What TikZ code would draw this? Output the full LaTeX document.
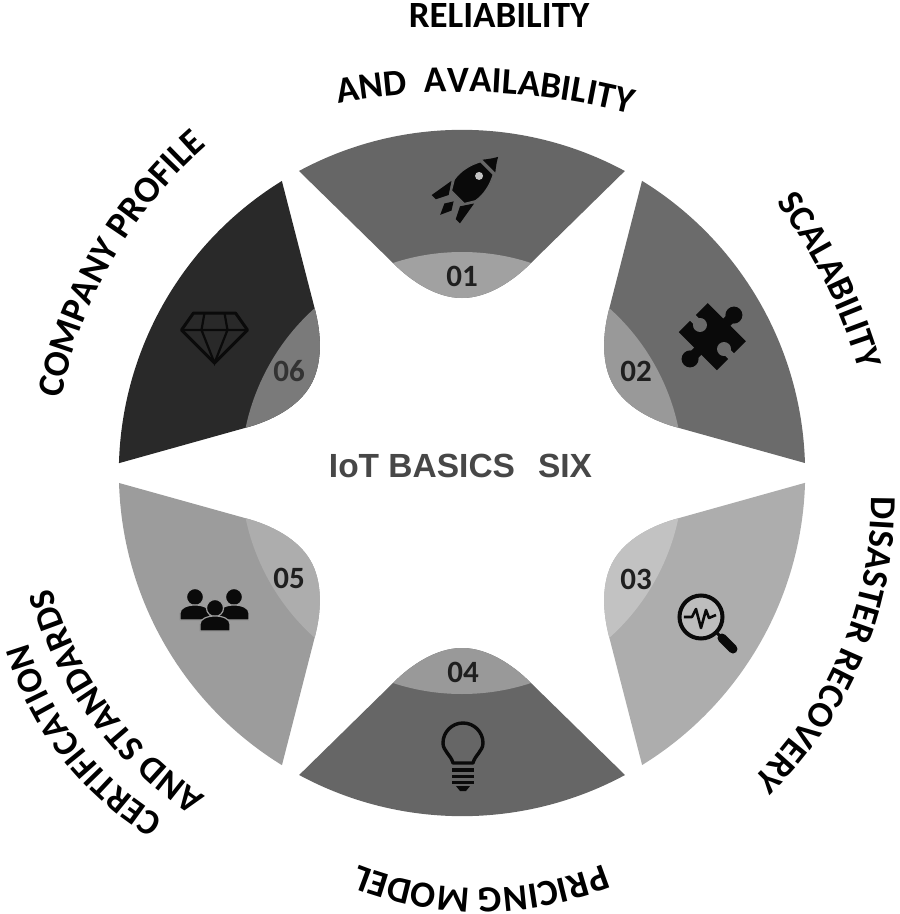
\documentclass[tikz,border=0pt]{standalone}
\usepackage{fontspec}
\setmainfont{Carlito}
\newfontfamily\arialb{Liberation Sans}
\usetikzlibrary{decorations.text}
\definecolor{pone}{gray}{0.40}
\definecolor{ptwo}{gray}{0.42}
\definecolor{pfive}{gray}{0.61}
\tikzset{
  x=1pt,y=1pt,
  numlab/.style={font=\bfseries\fontsize{31}{31}\selectfont,text=black!88,inner sep=0pt},
  icon/.style={fill=black!96,draw=none},
  iconline/.style={draw=black!96,fill=none,line width=3.4pt},
}
% args: rotation, wedge colour, band colour
\newcommand{\petal}[3]{%
 \begin{scope}[rotate=#1]
  \fill[#2] (-163,302) arc[start angle=118.36,end angle=61.64,radius=343] -- (69,210)
    .. controls (50,191) and (25,175) .. (0,175) .. controls (-25,175) and (-50,191) .. (-69,210) -- cycle;
  \begin{scope}
   \clip (0,0) circle[radius=221];
   \fill[#3] (-163,302) -- (163,302) -- (69,210)
    .. controls (50,191) and (25,175) .. (0,175) .. controls (-25,175) and (-50,191) .. (-69,210) -- cycle;
  \end{scope}
 \end{scope}}
% args: font size, arc centre, radius, middle angle, text
\newcommand{\arclab}[5]{%
 \path[shift={#2},rotate=#4,postaction={decorate,decoration={text along path,text align={center},
   text={|\bfseries\fontsize{#1}{#1}\selectfont|#5}}}]
   (35:#3) arc[start angle=35,end angle=-35,radius=#3];}
\begin{document}
\begin{tikzpicture}
\useasboundingbox (-462,-441) rectangle (438,473);
\petal{0}{pone}{black!37}
\petal{-60}{ptwo}{black!40}
\petal{-120}{black!32}{black!24}
\petal{-180}{pone}{black!40}
\petal{-240}{pfive}{black!32}
\petal{-300}{black!84}{black!52}
% numbers
\node[numlab] (n1) at (0,197) {01};
\node[numlab] (n2) at (174,102) {02};
\node[numlab] (n3) at (174,-106) {03};
\node[numlab] (n4) at (1,-199) {04};
\node[numlab] (n5) at (-173,-105) {05};
\node[numlab,text=black!80] (n6) at (-173,102) {06};
\node[font=\arialb\bfseries\fontsize{33.5}{33.5}\selectfont,text=black!72,inner sep=0pt] (title) at (-1.5,7) {IoT BASICS\hspace{23pt}SIX};
% labels
\node[font=\bfseries\fontsize{37}{37}\selectfont,inner sep=0pt] (rel) at (37,457) {RELIABILITY};
\arclab{37}{(0,-291)}{672}{88}{AND{ }{ }AVAILABILITY}
\arclab{36.5}{(-106,-41)}{523}{26.2}{SCALABILITY}
\arclab{36.5}{(25,-29)}{384}{-22.7}{DISASTER RECOVERY}
\arclab{37}{(19,-85)}{330}{-90}{PRICING MODEL}
\arclab{36}{(-145,-87)}{300}{-142.3}{CERTIFICATION}
\arclab{36.5}{(-55,-14)}{369}{-143.6}{AND STANDARDS}
\arclab{37}{(41,-12)}{450}{150}{COMPANY PROFILE}
% rocket
\begin{scope}[shift={(10,290)},rotate=-45]
 \fill[icon] (-16,-13) -- (-20,-37) -- (-14,-37) -- (-8,-25) -- cycle;
 \fill[icon] (16,-13) -- (20,-37) -- (14,-37) -- (8,-25) -- cycle;
 \fill[icon] (0,-26) -- (5,-34) -- (0,-45) -- (-5,-34) -- cycle;
 \fill[icon,even odd rule,draw=pone,line width=1.2pt]
   (-9,21) .. controls (-14,12) and (-17,0) .. (-15,-10) -- (-9,-20) -- (9,-20) -- (15,-10)
   .. controls (17,0) and (14,12) .. (9,21) -- cycle;
 \fill[pone!40] (0,10) circle[radius=4];
 \fill[icon] (-9,24) .. controls (-4,30) and (-1,35) .. (0,37) .. controls (1,35) and (4,30) .. (9,24) -- cycle;
\end{scope}
% puzzle
\begin{scope}[shift={(250,136)},rotate=45]
 \fill[icon] (-20,-27) rectangle (21,27);
 \fill[icon] (16,-5) rectangle (28,5);
 \fill[icon] (31,0) circle[radius=8.5];
 \fill[icon] (-28,-5) rectangle (-16,5);
 \fill[icon] (-31,0) circle[radius=8.5];
 \fill[ptwo] (0,17) circle[radius=7];
 \fill[ptwo] (-4,17) rectangle (4,28);
 \fill[ptwo] (0,-17) circle[radius=7];
 \fill[ptwo] (-4,-28) rectangle (4,-17);
\end{scope}
% magnifier
\begin{scope}[shift={(239,-144)}]
 \fill[black!26] (0,0) circle[radius=21];
 \draw[iconline,line width=4pt] (0,0) circle[radius=21.5];
 \draw[draw=black!96,line width=9pt,line cap=round] (21,-21) -- (32,-32);
 \draw[draw=black!96,line width=3pt] (15,-15) -- (22,-22);
 \draw[iconline,line width=2.6pt,line join=round] (-17,0) -- (-9,0) -- (-5,8) -- (0,-11) -- (5,7) -- (8,-1) -- (15,2);
\end{scope}
% bulb
\begin{scope}[shift={(1,-270)}]
 \draw[iconline,line join=round] (-10,-20) .. controls (-12,-12) and (-20,-8) .. (-20,0) arc[start angle=180,end angle=0,radius=20] .. controls (20,-8) and (12,-12) .. (10,-20) -- cycle;
 \fill[icon] (-11,-25) rectangle (11,-29);
 \fill[icon] (-11,-32) rectangle (11,-35);
 \fill[icon] (-11,-37.5) rectangle (11,-40.5);
 \fill[icon] (-7,-43) -- (7,-43) -- (3,-48) -- (-3,-48) -- cycle;
\end{scope}
% people
\begin{scope}[shift={(-247,-124)}]
 \foreach \dx/\dy in {-20/0,19/0,0/-11}{
  \fill[icon,draw=pfive,line width=1.2pt] (\dx,\dy) circle[radius=8.5];
  \fill[icon,draw=pfive,line width=1.2pt] (\dx-15,\dy-23) -- (\dx-15,\dy-16) .. controls (\dx-15,\dy-11) and (\dx-8,\dy-8) .. (\dx,\dy-8) .. controls (\dx+8,\dy-8) and (\dx+15,\dy-11) .. (\dx+15,\dy-16) -- (\dx+15,\dy-23) -- cycle;
 }
\end{scope}
% diamond
\begin{scope}[shift={(-247.5,143)}]
 \draw[iconline,line width=3pt,line join=round] (-33,0) -- (-21,17) -- (21,17) -- (33,0) -- (0,-33) -- cycle;
 \draw[iconline,line width=2.2pt] (-33,0) -- (33,0) (-10,17) -- (-13,0) -- (0,-33) -- (13,0) -- (10,17);
\end{scope}
\end{tikzpicture}
\end{document}
